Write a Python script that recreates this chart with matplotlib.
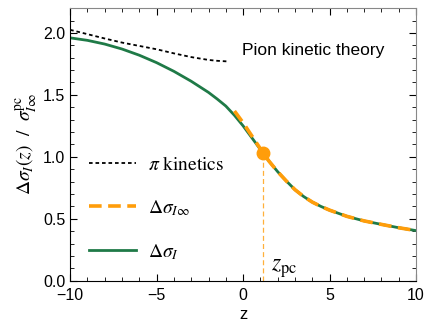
import matplotlib
matplotlib.use("Agg")
import matplotlib.pyplot as plt
from matplotlib.ticker import MultipleLocator

plt.rcParams["mathtext.fontset"] = "stix"
plt.rcParams["font.family"] = ["Liberation Sans", "DejaVu Sans"]

# full result
z_full = [-10, -9, -8, -7, -6, -5, -4, -3, -2, -1.5, -1, -0.5, 0, 0.5, 1, 1.14,
          1.5, 2, 2.5, 3, 3.5, 4, 4.5, 5, 6, 7, 8, 9, 10]
sig_full = [1.96, 1.94, 1.91, 1.87, 1.82, 1.76, 1.69, 1.61, 1.52, 1.467, 1.41, 1.335,
            1.25, 1.155, 1.06, 1.03, 0.965, 0.88, 0.805, 0.735, 0.68, 0.635, 0.60,
            0.57, 0.52, 0.483, 0.455, 0.428, 0.405]

# asymptotic curve
z_inf = [-0.5, 0, 0.5, 1, 1.14, 1.5, 2, 2.5, 3, 3.5, 4, 4.5, 5, 6, 7, 8, 9, 10]
sig_inf = [1.37, 1.275, 1.17, 1.065, 1.035, 0.965, 0.88, 0.805, 0.735, 0.68, 0.635,
           0.60, 0.57, 0.52, 0.483, 0.455, 0.428, 0.405]

# pion kinetic theory
z_pi = [-10, -9, -8, -7, -6, -5, -4, -3, -2, -1.5, -0.9]
sig_pi = [2.025, 1.99, 1.955, 1.922, 1.895, 1.868, 1.835, 1.805, 1.782, 1.775, 1.77]

z_pc = 1.14
sig_pc = 1.03

green = "#1f7a47"
orange = "#ff9d0a"

fig = plt.figure(figsize=(4.25, 3.25), dpi=100)
ax = fig.add_axes([0.165, 0.136, 0.814, 0.839])

l1, = ax.plot(z_pi, sig_pi, color="black", lw=1.3, dashes=(2, 1.6))
ax.plot([z_pc, z_pc], [0, sig_pc], color=orange, lw=0.9, dashes=(4, 2.5), alpha=0.8)
l3, = ax.plot(z_full, sig_full, color=green, lw=2.0)
l2, = ax.plot(z_inf, sig_inf, color=orange, lw=2.6, dashes=(3.5, 1.8))
ax.plot([z_pc], [sig_pc], "o", color=orange, ms=9)

ax.set_xlim(-10, 10)
ax.set_ylim(0, 2.2)
ax.xaxis.set_major_locator(MultipleLocator(5))
ax.xaxis.set_minor_locator(MultipleLocator(1))
ax.yaxis.set_major_locator(MultipleLocator(0.5))
ax.yaxis.set_minor_locator(MultipleLocator(0.1))
ax.tick_params(which="both", direction="in", top=True, right=True, labelsize=11.5)
ax.tick_params(which="major", length=5)
ax.tick_params(which="minor", length=3)
ax.tick_params(axis="x", pad=5)
for s in ["top", "right"]:
    ax.spines[s].set_color("#888888")

ax.set_xlabel("z", fontsize=12, labelpad=3)
ax.set_ylabel(r"$\Delta\sigma_I(z)\ \ /\ \ \sigma^{\rm pc}_{I\infty}$", fontsize=14, labelpad=2)

ax.text(-0.05, 1.86, "Pion kinetic theory", fontsize=12.5, va="center")
ax.text(1.6, 0.08, r"$z_{\rm pc}$", fontsize=17)

leg = ax.legend([l1, l2, l3],
                [r"$\pi\ \mathrm{kinetics}$", r"$\Delta\sigma_{I\infty}$", r"$\Delta\sigma_I$"],
                loc="lower left", bbox_to_anchor=(0.005, 0.005), frameon=False,
                fontsize=14, handlelength=2.4, labelspacing=1.25, handletextpad=0.6)

fig.savefig("out.png", dpi=100)
